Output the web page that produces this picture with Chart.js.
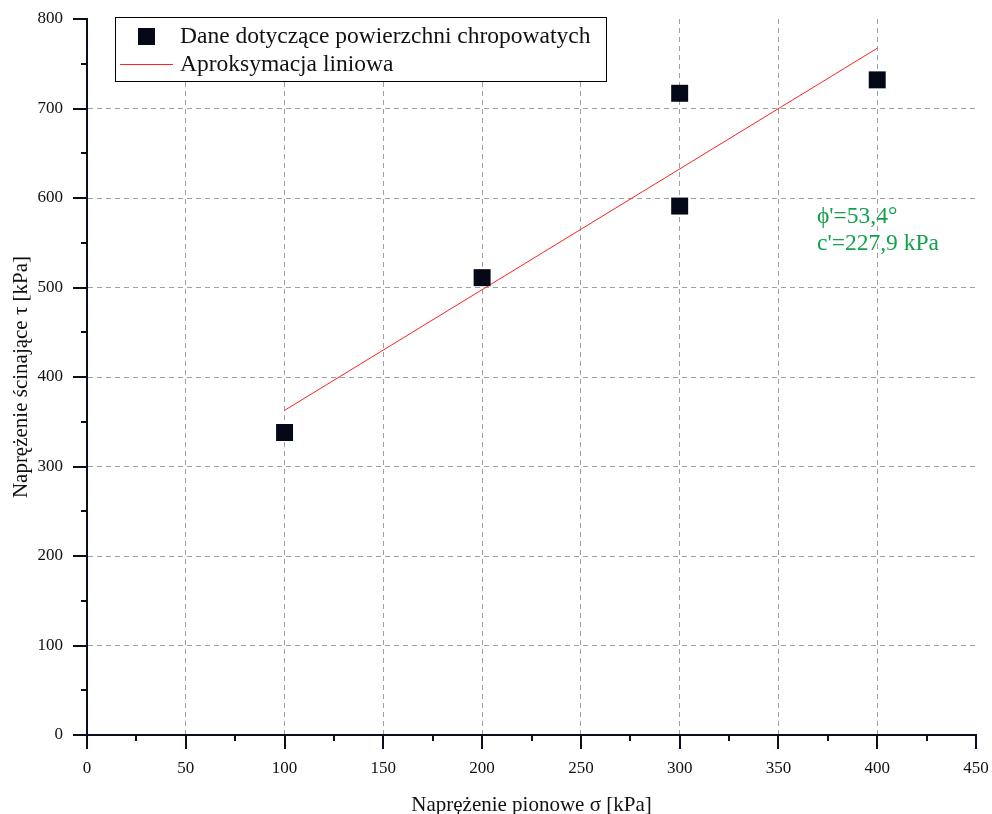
<!DOCTYPE html>
<html>
<head>
<meta charset="utf-8">
<script src="https://cdn.jsdelivr.net/npm/chart.js@4/dist/chart.umd.min.js"></script>
<style>
  html, body { margin: 0; padding: 0; background: #fff; }
  #wrap { width: 992px; height: 814px; }
</style>
</head>
<body>
<div id="wrap"><canvas id="shear-chart" width="992" height="814"></canvas></div>
<script>
// dane pomiarowe
const sigmaValues = [100, 200, 300, 300, 400];
const tauValues = [338, 511, 717, 591, 732];

// aproksymacja liniowa (poczatek/koniec odcinka)
const fitSigma = [100, 400];
const fitTau = [362.7, 767.3];

const seriesLabels = ['Dane dotyczące powierzchni chropowatych', 'Aproksymacja liniowa'];
const noteLines = ["ϕ'=53,4°", "c'=227,9 kPa"];

const AXIS_COLOR = '#0a0f1e';
const MARKER_COLOR = '#050816';
const FIT_COLOR = '#ff2020';
const NOTE_COLOR = '#15a04c';
const FONT = '"Liberation Serif", "Times New Roman", serif';

/** rysuje ticki na zewnatrz osi (glowne i pomocnicze) */
const axisTicks = {
    id: 'axisTicks',
    afterDraw(chart) {
        const { ctx, chartArea, scales } = chart;
        const xs = scales.x, ys = scales.y;
        ctx.save();
        ctx.strokeStyle = AXIS_COLOR;
        ctx.lineWidth = 2;
        ctx.beginPath();
        for (let v = 0; v <= 450; v += 25) {
            const px = Math.round(xs.getPixelForValue(v));
            const len = v % 50 === 0 ? 14 : 6;
            ctx.moveTo(px, chartArea.bottom);
            ctx.lineTo(px, chartArea.bottom + len);
        }
        for (let v = 0; v <= 800; v += 50) {
            const py = Math.round(ys.getPixelForValue(v));
            const len = v % 100 === 0 ? 14 : 6;
            ctx.moveTo(chartArea.left, py);
            ctx.lineTo(chartArea.left - len, py);
        }
        ctx.stroke();
        ctx.restore();
    }
};

/** legenda w ramce + opis parametrow */
const boxLegend = {
    id: 'boxLegend',
    afterDraw(chart) {
        const { ctx, scales } = chart;
        ctx.save();
        const bx = 115, by = 17, bw = 491, bh = 64;
        ctx.fillStyle = '#fff';
        ctx.fillRect(bx, by, bw, bh);
        ctx.strokeStyle = '#000';
        ctx.lineWidth = 1;
        ctx.strokeRect(bx + 0.5, by + 0.5, bw, bh);

        ctx.fillStyle = MARKER_COLOR;
        ctx.fillRect(138, 28, 17, 17);
        ctx.strokeStyle = FIT_COLOR;
        ctx.beginPath();
        ctx.moveTo(120, 64.5);
        ctx.lineTo(173, 64.5);
        ctx.stroke();

        ctx.fillStyle = '#111';
        ctx.font = '23.5px ' + FONT;
        ctx.textBaseline = 'middle';
        ctx.fillText(seriesLabels[0], 180, 37);
        ctx.fillText(seriesLabels[1], 180, 65);

        ctx.fillStyle = NOTE_COLOR;
        ctx.font = '23.5px ' + FONT;
        const nx = scales.x.getPixelForValue(369.5);
        ctx.fillText(noteLines[0], nx, scales.y.getPixelForValue(579));
        ctx.fillText(noteLines[1], nx, scales.y.getPixelForValue(549));
        ctx.restore();
    }
};

const gridColor = (ctx, maxV) => {
    const v = ctx.tick ? ctx.tick.value : 0;
    return (v === 0 || v === maxV) ? 'rgba(0,0,0,0)' : '#a0a0a0';
};

new Chart(document.getElementById('shear-chart'), {
    type: 'scatter',
    data: {
        datasets: [{
            label: seriesLabels[0],
            data: sigmaValues.map((s, i) => ({ x: s, y: tauValues[i] })),
            pointStyle: 'rect',
            pointRadius: 12,
            backgroundColor: MARKER_COLOR,
            borderColor: MARKER_COLOR,
            borderWidth: 0,
            order: 1
        }, {
            label: seriesLabels[1],
            type: 'line',
            data: fitSigma.map((s, i) => ({ x: s, y: fitTau[i] })),
            borderColor: FIT_COLOR,
            borderWidth: 1,
            pointRadius: 0,
            fill: false,
            order: 2
        }]
    },
    options: {
        responsive: false,
        animation: false,
        layout: { padding: { top: 19, right: 16, left: 0, bottom: 0 } },
        plugins: {
            legend: { display: false },
            tooltip: { enabled: false }
        },
        scales: {
            x: {
                type: 'linear',
                min: 0, max: 450,
                afterFit(scale) {
                    scale.height = 79;
                    scale.paddingLeft = 0;
                    scale.paddingRight = 0;
                },
                border: { display: true, color: AXIS_COLOR, width: 2, dash: [5, 4] },
                grid: {
                    drawTicks: false,
                    color: c => gridColor(c, 450),
                    lineWidth: 1
                },
                ticks: {
                    stepSize: 50,
                    padding: 23,
                    color: '#111',
                    font: { family: FONT, size: 17 }
                },
                title: {
                    display: true,
                    text: 'Naprężenie pionowe σ [kPa]',
                    color: '#111',
                    font: { family: FONT, size: 21 },
                    padding: { top: 0, bottom: -4 }
                }
            },
            y: {
                type: 'linear',
                min: 0, max: 800,
                afterFit(scale) {
                    scale.width = 87;
                    scale.paddingTop = 0;
                    scale.paddingBottom = 0;
                },
                border: { display: true, color: AXIS_COLOR, width: 2, dash: [5, 4] },
                grid: {
                    drawTicks: false,
                    color: c => gridColor(c, 800),
                    lineWidth: 1
                },
                ticks: {
                    stepSize: 100,
                    padding: 24,
                    color: '#111',
                    font: { family: FONT, size: 17 }
                },
                title: {
                    display: true,
                    text: 'Naprężenie ścinające τ [kPa]',
                    color: '#111',
                    font: { family: FONT, size: 21 },
                    padding: { top: 9, bottom: 0 }
                }
            }
        }
    },
    plugins: [axisTicks, boxLegend]
});
</script>
</body>
</html>
